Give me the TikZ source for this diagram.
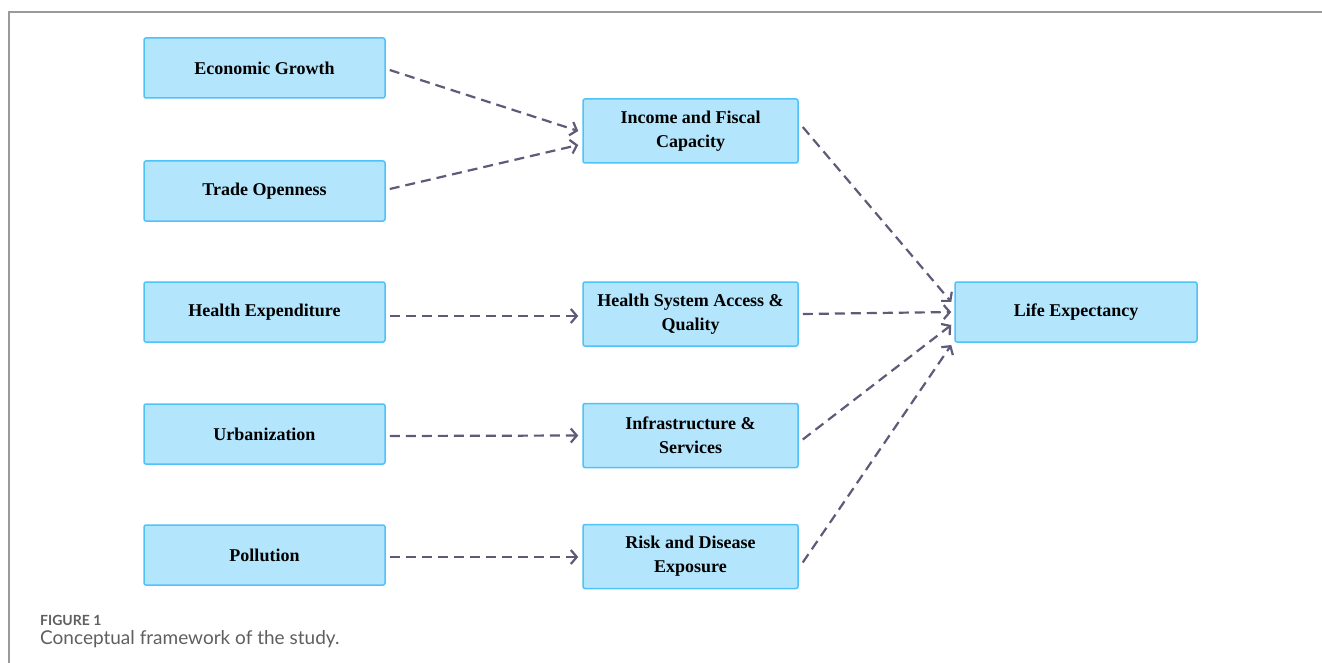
\documentclass[tikz,border=0pt]{standalone}
\usepackage{fontspec}
\setmainfont{Liberation Serif}
\setsansfont{Lato}
\usetikzlibrary{arrows.meta,positioning}

\definecolor{boxfill}{HTML}{B3E5FC}
\definecolor{boxline}{HTML}{4FC3F7}
\definecolor{linkgray}{HTML}{5E5A78}
\definecolor{framegray}{HTML}{9A9A9E}
\definecolor{capgray}{HTML}{5F5F5F}

\begin{document}
\begin{tikzpicture}[
  >={Straight Barb[length=6pt,width=14pt]},
  factor/.style={draw=boxline, fill=boxfill, line width=1.5pt, rounded corners=2pt,
                 align=center, minimum width=241pt, minimum height=60pt,
                 font=\fontsize{18}{24}\selectfont\bfseries},
  channel/.style={factor, minimum width=215pt, minimum height=64pt},
  outcome/.style={factor, minimum width=242pt},
  link/.style={->, draw=linkgray, line width=2.2pt, dash pattern=on 10pt off 6pt},
  caption/.style={anchor=base west, inner sep=0pt, text=capgray}
]
\useasboundingbox (0,0) rectangle (1322pt,-663pt);

% figure frame
\draw[framegray, line width=1.5pt] (1322pt,-12pt) -- (9pt,-12pt) -- (9pt,-663pt);

% drivers
\node[factor] (growth) at (264.5pt,-68pt) {Economic Growth};
\node[factor, below=61.5pt of growth] (trade) {Trade Openness};
\node[factor, below=59.5pt of trade] (healthexp) {Health Expenditure};
\node[factor, below=60.5pt of healthexp] (urban) {Urbanization};
\node[factor, below=59.5pt of urban] (pollution) {Pollution};

% channels
\node[channel] (income) at (690.5pt,-131pt) {Income and Fiscal\\Capacity};
\node[channel, right=196.5pt of healthexp, yshift=-2pt] (access) {Health System Access \&\\Quality};
\node[channel, right=196.5pt of urban, yshift=-1.5pt] (infra) {Infrastructure \&\\Services};
\node[channel, right=196.5pt of pollution, yshift=-1.5pt] (risk) {Risk and Disease\\Exposure};

% outcome
\node[outcome, right=155.5pt of access, yshift=2pt] (life) {Life Expectancy};

% paths
\draw[link] ([xshift=4pt,yshift=-2pt]growth.east) -- ([xshift=-4pt]income.west);
\draw[link] ([xshift=4pt,yshift=2pt]trade.east) -- ([xshift=-4pt,yshift=-14pt]income.west);
\draw[link] ([xshift=4pt,yshift=-4pt]healthexp.east) -- ([xshift=-4pt,yshift=-2pt]access.west);
\draw[link] ([xshift=4pt,yshift=-2pt]urban.east) -- ([xshift=-4pt]infra.west);
\draw[link] ([xshift=4pt,yshift=-2pt]pollution.east) -- ([xshift=-4pt,yshift=-0.5pt]risk.west);

\draw[link] ([xshift=4pt,yshift=4pt]income.east) -- ([xshift=-3pt,yshift=10pt]life.west);
\draw[link] ([xshift=4pt]access.east) -- ([xshift=-3pt]life.west);
\draw[link] ([xshift=4pt,yshift=-4pt]infra.east) -- ([xshift=-3pt,yshift=-13pt]life.west);
\draw[link] ([xshift=4pt,yshift=-6pt]risk.east) -- ([xshift=-3pt,yshift=-33pt]life.west);

% caption
\node[caption, font=\sffamily\bfseries\fontsize{14}{16}\selectfont] (figlabel) at (40pt,-625pt) {FIGURE 1};
\node[caption, font=\sffamily\fontsize{19}{22}\selectfont] (figtext) at (40pt,-644pt) {Conceptual framework of the study.};
\end{tikzpicture}
\end{document}
